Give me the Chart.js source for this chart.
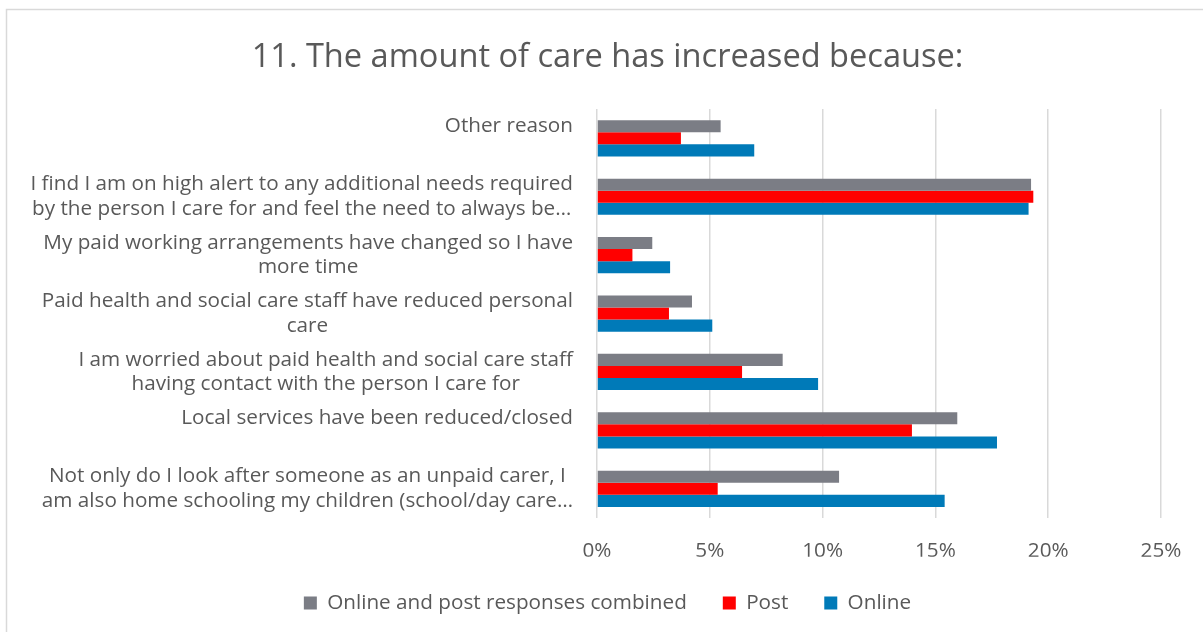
<!DOCTYPE html>
<html>
<head>
<meta charset="utf-8">
<script src="https://cdn.jsdelivr.net/npm/chart.js@4/dist/chart.umd.min.js"></script>
<style>
  html, body { margin: 0; padding: 0; background: #ffffff; }
  #wrap { position: relative; width: 1203px; height: 632px; }
</style>
</head>
<body>
<div id="wrap"><canvas id="c" width="1203" height="632"></canvas></div>
<script>
// ---- data ----
const titleText = "11. The amount of care has increased because:";
const categories = [
  ["Other reason"],
  ["I find I am on high alert to any additional needs required", "by the person I care for and feel the need to always be\u2026"],
  ["My paid working arrangements have changed so I have", "more time"],
  ["Paid health and social care staff have reduced personal", "care"],
  ["I am worried about paid health and social care staff", "having contact with the person I care for"],
  ["Local services have been reduced/closed"],
  ["Not only do I look after someone as an unpaid carer, I", "am also home schooling my children (school/day care\u2026"]
];
const seriesNames = ["Online and post responses combined", "Post", "Online"];
const combinedValues = [5.48, 19.24, 2.45, 4.21, 8.23, 15.97, 10.73];
const postValues     = [3.72, 19.34, 1.57, 3.19, 6.43, 13.96, 5.35];
const onlineValues   = [6.97, 19.13, 3.24, 5.11, 9.80, 17.73, 15.41];
const xTicks = [0, 5, 10, 15, 20, 25];

// ---- styles ----
const TEXT = "#595959";
const FONT = "'Open Sans', 'Noto Sans', 'Liberation Sans', sans-serif";
const colors = ["#7B7D85", "#FF0000", "#007AB8"];

const borderPlugin = {
  id: 'outerBorder',
  beforeDraw(chart) {
    const ctx = chart.ctx;
    ctx.save();
    ctx.fillStyle = '#ffffff';
    ctx.fillRect(0, 0, chart.width, chart.height);
    ctx.strokeStyle = '#d9d9d9';
    ctx.lineWidth = 1.5;
    ctx.strokeRect(6.5, 9.5, chart.width + 10, chart.height + 10);
    ctx.restore();
  }
};

const yLabelPlugin = {
  id: 'yLabels',
  afterDraw(chart) {
    const ctx = chart.ctx;
    const yScale = chart.scales.y;
    const rightEdge = chart.chartArea.left - 24;
    const lineGap = 24.6;
    ctx.save();
    ctx.font = "20.7px " + FONT;
    ctx.fillStyle = TEXT;
    ctx.textAlign = 'center';
    ctx.textBaseline = 'middle';
    categories.forEach((lines, i) => {
      const cy = yScale.getPixelForValue(i);
      let maxW = 0;
      lines.forEach(l => { maxW = Math.max(maxW, ctx.measureText(l).width); });
      const cx = rightEdge - maxW / 2;
      lines.forEach((l, k) => {
        ctx.fillText(l, cx, cy - lineGap / 2 + k * lineGap);
      });
    });
    ctx.restore();
  }
};

new Chart(document.getElementById('c'), {
  type: 'bar',
  data: {
    labels: categories.map(l => l.join(' ')),
    datasets: [
      { label: seriesNames[0], data: combinedValues, backgroundColor: colors[0] },
      { label: seriesNames[1], data: postValues, backgroundColor: colors[1] },
      { label: seriesNames[2], data: onlineValues, backgroundColor: colors[2] }
    ]
  },
  options: {
    indexAxis: 'y',
    responsive: false,
    animation: false,
    devicePixelRatio: 1,
    datasets: { bar: { categoryPercentage: 0.62, barPercentage: 1.0 } },
    layout: { padding: { left: 12, right: 0, top: 0, bottom: 8.65 } },
    scales: {
      x: {
        min: 0, max: 25,
        afterBuildTicks(scale) { scale.ticks = xTicks.map(v => ({ value: v })); },
        afterFit(scale) { scale.height = 38.65; },
        grid: { color: '#d9d9d9', lineWidth: 1.5, drawTicks: false },
        border: { display: false },
        ticks: {
          padding: 20.6,
          color: TEXT,
          font: { family: FONT, size: 20.7, lineHeight: 1.2 },
          callback: v => v + '%'
        }
      },
      y: {
        position: 'left',
        grid: { display: false },
        border: { display: false },
        ticks: { display: false },
        afterFit(scale) { scale.width = 585; }
      },
      yRight: {
        type: 'category',
        axis: 'y',
        position: 'right',
        grid: { display: false },
        border: { display: false },
        ticks: { display: false },
        afterFit(scale) { scale.width = 42; }
      }
    },
    plugins: {
      title: {
        display: true,
        text: titleText,
        color: TEXT,
        font: { family: FONT, size: 32.6, weight: 'normal', lineHeight: 1.2 },
        padding: { top: 38, bottom: 32 }
      },
      legend: {
        position: 'bottom',
        labels: {
          color: TEXT,
          font: { family: FONT, size: 20.7 },
          boxWidth: 13, boxHeight: 13,
          padding: 36
        }
      },
      tooltip: { enabled: false }
    }
  },
  plugins: [borderPlugin, yLabelPlugin]
});
</script>
</body>
</html>
